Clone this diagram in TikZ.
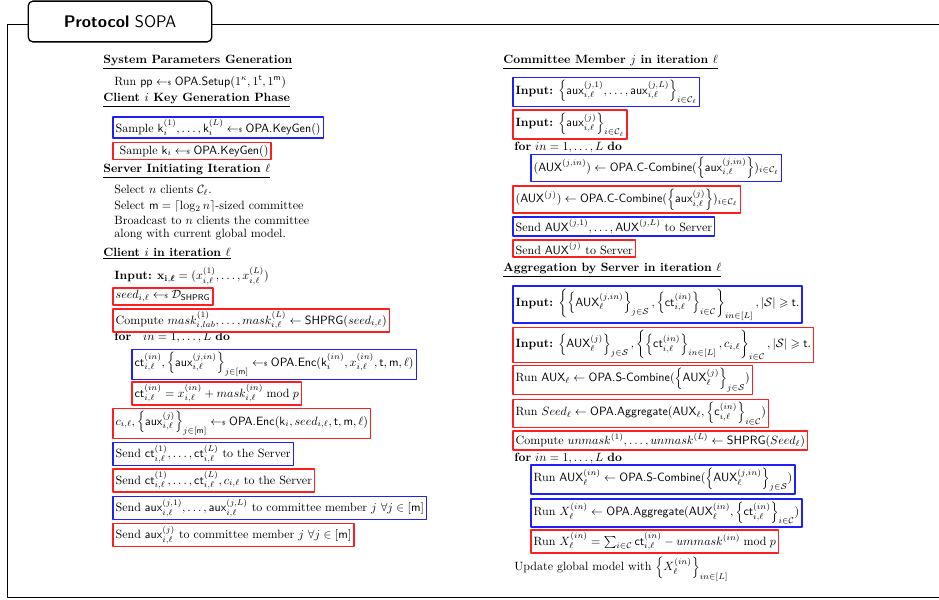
\documentclass[tikz,border=0pt]{standalone}
\usepackage{amsmath,amssymb}
\newcommand{\samp}{\mathrel{\leftarrow\!\!{\scriptscriptstyle\$}}}
\newcommand{\ctv}{\mathsf{ct}}
\newcommand{\auxv}{\mathsf{aux}}
\newcommand{\AUXv}{\mathsf{AUX}}
\newcommand{\opa}[1]{\textsf{OPA.#1}}
\newcommand{\prg}{\mathsf{SHPRG}}
\definecolor{frameblue}{RGB}{30,30,255}
\definecolor{framered}{RGB}{255,30,30}
\tikzset{
  hdr/.style={anchor=west,inner sep=1pt,font=\bfseries},
  txt/.style={anchor=west,inner sep=1pt},
  stepbox/.style={anchor=west,inner sep=2pt},
  bline/.style={frameblue,line width=1.2pt},
  rline/.style={framered,line width=1.2pt},
}
\begin{document}
\begin{tikzpicture}[x=0.8333pt,y=-0.8333pt,line cap=round,line join=round]
  \useasboundingbox (0,0) rectangle (939,599);
  \draw[line width=0.8pt] (7,24) rectangle (960,597);
  \node[draw,fill=white,rounded corners=4pt,line width=1.1pt,minimum width=153pt,minimum height=34pt]
    (title) at (120,21.5) {\fontsize{14}{17}\selectfont\sffamily\textbf{Protocol} SOPA};

  \node[hdr] (setup) at (102,62) {\underline{System Parameters Generation}};
  \node[txt] (runpp) at (113,82) {Run $\mathsf{pp}\samp\opa{Setup}(1^{\kappa},1^{\mathsf{t}},1^{\mathsf{m}})$};
  \node[hdr] (keygen) at (102,100) {\underline{Client $i$ Key Generation Phase}};
  \node[stepbox] (kgblue) at (113,127.5) {Sample $\mathsf{k}_i^{(1)},\dots,\mathsf{k}_i^{(L)}\samp\opa{KeyGen}()$};
  \node[stepbox] (kgred) at (113,151) {\ Sample $\mathsf{k}_i\samp\opa{KeyGen}()$};
  \node[hdr] (server) at (102,171) {\underline{Server Initiating Iteration $\ell$}};
  \node[txt] (sel1) at (113,190) {Select $n$ clients $\mathcal{C}_\ell$.};
  \node[txt] (sel2) at (113,206) {Select $\mathsf{m}=\lceil\log_2 n\rceil$-sized committee};
  \node[txt] (bcast1) at (113,220) {Broadcast to $n$ clients the committee};
  \node[txt] (bcast2) at (113,235) {along with current global model.};
  \node[hdr] (client) at (102,254) {\underline{Client $i$ in iteration $\ell$}};
  \node[txt] (cinput) at (113,276) {\textbf{Input:} $\mathbf{x}_{\mathbf{i},\boldsymbol{\ell}}=(x_{i,\ell}^{(1)},\dots,x_{i,\ell}^{(L)})$};
  \node[stepbox] (seed) at (113,296.5) {$seed_{i,\ell}\samp\mathcal{D}_{\prg}$};
  \node[stepbox] (mask) at (113,320.5) {Compute $mask_{i,lab}^{(1)},\dots,mask_{i,\ell}^{(L)}\leftarrow\prg(seed_{i,\ell})$};
  \node[txt] (cfor) at (113,337) {\textbf{for}\quad $in=1,\dots,L$ \textbf{do}};
  \node[stepbox] (encblue) at (132,364.5) {$\ctv_{i,\ell}^{(in)},\left\{\auxv_{i,\ell}^{(j,in)}\right\}_{j\in[\mathsf{m}]}\samp\opa{Enc}(\mathsf{k}_i^{(in)},x_{i,\ell}^{(in)},\mathsf{t},\mathsf{m},\ell)$};
  \node[stepbox] (ctmask) at (132,393.5) {$\ctv_{i,\ell}^{(in)}=x_{i,\ell}^{(in)}+mask_{i,\ell}^{(in)}\bmod p$};
  \node[stepbox] (encred) at (113,423.5) {$c_{i,\ell},\left\{\auxv_{i,\ell}^{(j)}\right\}_{j\in[\mathsf{m}]}\samp\opa{Enc}(\mathsf{k}_i,seed_{i,\ell},\mathsf{t},\mathsf{m},\ell)$};
  \node[stepbox] (sendctb) at (113,454) {Send $\ctv_{i,\ell}^{(1)},\dots,\ctv_{i,\ell}^{(L)}$ to the Server};
  \node[stepbox] (sendctr) at (113,480.5) {Send $\ctv_{i,\ell}^{(1)},\dots,\ctv_{i,\ell}^{(L)},c_{i,\ell}$ to the Server};
  \node[stepbox] (sendauxb) at (113,508) {Send $\auxv_{i,\ell}^{(j,1)},\dots,\auxv_{i,\ell}^{(j,L)}$ to committee member $j$ $\forall j\in[\mathsf{m}]$};
  \node[stepbox] (sendauxr) at (113,535) {Send $\auxv_{i,\ell}^{(j)}$ to committee member $j$ $\forall j\in[\mathsf{m}]$};

  \node[hdr] (member) at (502,62) {\underline{Committee Member $j$ in iteration $\ell$}};
  \node[stepbox] (minb) at (513,92) {\textbf{Input:} $\left\{\auxv_{i,\ell}^{(j,1)},\dots,\auxv_{i,\ell}^{(j,L)}\right\}_{i\in\mathcal{C}_\ell}$};
  \node[stepbox] (minr) at (513,124.5) {\textbf{Input:} $\left\{\auxv_{i,\ell}^{(j)}\right\}_{i\in\mathcal{C}_\ell}$};
  \node[txt] (mfor) at (513,147) {\textbf{for} $in=1,\dots,L$ \textbf{do}};
  \node[stepbox] (ccomb) at (531,168) {$(\AUXv^{(j,in)})\leftarrow\opa{C-Combine}(\left\{\auxv_{i,\ell}^{(j,in)}\right\})_{i\in\mathcal{C}_\ell}$};
  \node[stepbox] (ccombr) at (513,199.5) {$(\AUXv^{(j)})\leftarrow\opa{C-Combine}(\left\{\auxv_{i,\ell}^{(j)}\right\})_{i\in\mathcal{C}_\ell}$};
  \node[stepbox] (msendb) at (513,226.5) {Send $\AUXv^{(j,1)},\dots,\AUXv^{(j,L)}$ to Server};
  \node[stepbox] (msendr) at (513,248.5) {Send $\AUXv^{(j)}$ to Server};

  \node[hdr] (aggr) at (502,270) {\underline{Aggregation by Server in iteration $\ell$}};
  \node[stepbox] (sinb) at (513,304.5) {\textbf{Input:} $\left\{\left\{\AUXv_\ell^{(j,in)}\right\}_{j\in\mathcal{S}},\left\{\ctv_{i,\ell}^{(in)}\right\}_{i\in\mathcal{C}}\right\}_{in\in[L]},|\mathcal{S}|\geqslant\mathsf{t}.$};
  \node[stepbox] (sinr) at (513,345) {\textbf{Input:} $\left\{\AUXv_\ell^{(j)}\right\}_{j\in\mathcal{S}},\left\{\left\{\ctv_{i,\ell}^{(in)}\right\}_{in\in[L]},c_{i,\ell}\right\}_{i\in\mathcal{C}},|\mathcal{S}|\geqslant\mathsf{t}.$};
  \node[stepbox] (scomb) at (513,380) {Run $\AUXv_\ell\leftarrow\opa{S-Combine}(\left\{\AUXv_\ell^{(j)}\right\}_{j\in\mathcal{S}})$};
  \node[stepbox] (sagg) at (513,413.5) {Run $Seed_\ell\leftarrow\opa{Aggregate}(\AUXv_\ell,\left\{\mathsf{c}_{i,\ell}^{(in)}\right\}_{i\in\mathcal{C}})$};
  \node[stepbox] (unmask) at (513,440.5) {Compute $unmask^{(1)},\dots,unmask^{(L)}\leftarrow\prg(Seed_\ell)$};
  \node[txt] (sfor) at (513,458) {\textbf{for} $in=1,\dots,L$ \textbf{do}};
  \node[stepbox] (scombb) at (531,479.5) {Run $\AUXv_\ell^{(in)}\leftarrow\opa{S-Combine}(\left\{\AUXv_\ell^{(j,in)}\right\}_{j\in\mathcal{S}})$};
  \node[stepbox] (saggb) at (531,513) {Run $X_\ell^{(in)}\leftarrow\opa{Aggregate}(\AUXv_\ell^{(in)},\left\{\ctv_{i,\ell}^{(in)}\right\}_{i\in\mathcal{C}})$};
  \node[stepbox] (ssum) at (531,541.5) {Run $X_\ell^{(in)}=\sum_{i\in\mathcal{C}}\ctv_{i,\ell}^{(in)}-ummask^{(in)}\bmod p$};
  \node[txt] (update) at (513,569) {Update global model with $\left\{X_\ell^{(in)}\right\}_{in\in[L]}$};

  \foreach \b in {kgblue,encblue,sendctb,sendauxb,minb,ccomb,msendb,sinb,scombb,saggb}
    \draw[bline] (\b.south west) rectangle (\b.north east);
  \foreach \b in {kgred,seed,mask,ctmask,encred,sendctr,sendauxr,minr,ccombr,msendr,sinr,scomb,sagg,unmask,ssum}
    \draw[rline] (\b.south west) rectangle (\b.north east);
\end{tikzpicture}
\end{document}
